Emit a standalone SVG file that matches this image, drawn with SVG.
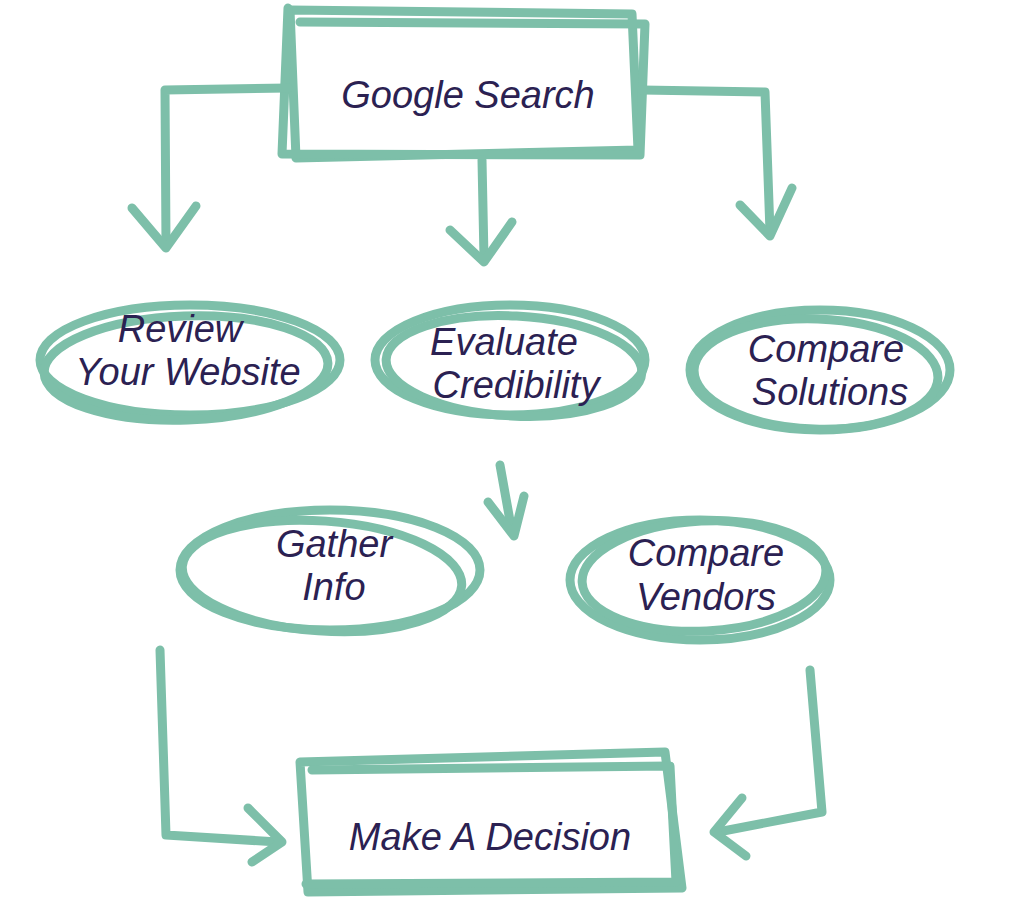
<svg xmlns="http://www.w3.org/2000/svg" width="1024" height="912" viewBox="0 0 1024 912">
<defs>
<style>
.s{fill:none;stroke:#7dbfa9;stroke-width:9;stroke-linecap:round;stroke-linejoin:round}
.t{font-family:"Liberation Sans",sans-serif;font-style:italic;font-size:38px;fill:#2b2152;text-anchor:middle}
</style>
</defs>
<rect width="1024" height="912" fill="#fff"/>
<g id="google-search">
<path class="s" d="M290 10 L632 14 L638 150 L296 158 Z"/>
<path class="s" d="M300 22 L645 24 L640 155 L282 154 L288 8"/>
<text class="t" x="468" y="108">Google Search</text>
</g>
<g id="review-website">
<ellipse class="s" cx="190" cy="360" rx="150" ry="55"/>
<ellipse class="s" cx="186" cy="368" rx="142" ry="52" transform="rotate(-2 186 368)"/>
<text class="t" x="180" y="342">Review</text>
<text class="t" x="188" y="385">Your Website</text>
</g>
<g id="evaluate-credibility">
<ellipse class="s" cx="510" cy="360" rx="135" ry="55"/>
<ellipse class="s" cx="514" cy="366" rx="128" ry="50" transform="rotate(3 514 366)"/>
<text class="t" x="504" y="355">Evaluate</text>
<text class="t" x="516" y="398">Credibility</text>
</g>
<g id="compare-solutions">
<ellipse class="s" cx="820" cy="370" rx="130" ry="60"/>
<ellipse class="s" cx="816" cy="374" rx="122" ry="55" transform="rotate(2 816 374)"/>
<text class="t" x="826" y="362">Compare</text>
<text class="t" x="830" y="405">Solutions</text>
</g>
<g id="gather-info">
<ellipse class="s" cx="330" cy="570" rx="150" ry="60"/>
<ellipse class="s" cx="322" cy="576" rx="140" ry="55" transform="rotate(4 322 576)"/>
<text class="t" x="334" y="557">Gather</text>
<text class="t" x="334" y="600">Info</text>
</g>
<g id="compare-vendors">
<ellipse class="s" cx="700" cy="580" rx="130" ry="60"/>
<ellipse class="s" cx="704" cy="576" rx="122" ry="55" transform="rotate(-3 704 576)"/>
<text class="t" x="706" y="566">Compare</text>
<text class="t" x="706" y="610">Vendors</text>
</g>
<g id="make-decision">
<path class="s" d="M300 762 L665 752 L682 888 L308 892 Z"/>
<path class="s" d="M312 770 L670 766 L676 882 L306 884"/>
<text class="t" x="490" y="850">Make A Decision</text>
</g>
<g id="connectors">
<path class="s" d="M288 88 L165 90 L166 245"/>
<path class="s" d="M132 208 L166 248 L196 206"/>
<path class="s" d="M482 160 L484 258"/>
<path class="s" d="M450 230 L484 262 L512 222"/>
<path class="s" d="M642 90 L765 92 L770 232"/>
<path class="s" d="M740 205 L770 236 L792 188"/>
<path class="s" d="M500 465 L512 532"/>
<path class="s" d="M488 502 L514 536 L524 496"/>
<path class="s" d="M160 650 L166 835 L278 842"/>
<path class="s" d="M248 808 L282 842 L252 862"/>
<path class="s" d="M810 670 L822 812 L718 832"/>
<path class="s" d="M742 798 L714 832 L746 856"/>
</g>
</svg>
